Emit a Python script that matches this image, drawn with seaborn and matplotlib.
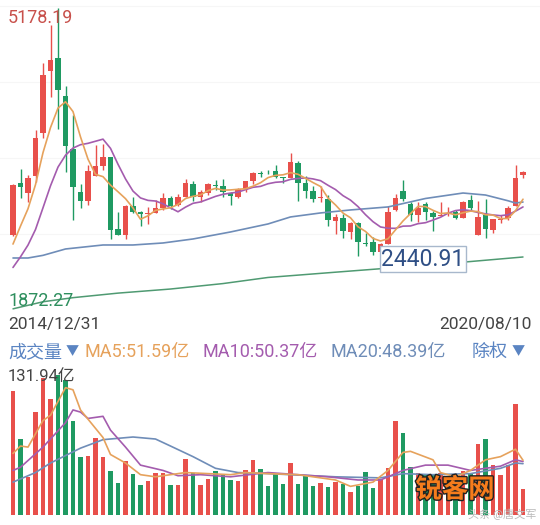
import numpy as np
import pandas as pd
import matplotlib
matplotlib.use("Agg")
import matplotlib.pyplot as plt
import matplotlib.patheffects as pe
import seaborn as sns

# monthly candles, 2014/12 .. 2020/08
MONTHS = [str(p) for p in pd.period_range("2014-12", "2020-08", freq="M")]

OPEN = [2680, 3258, 3148, 3332, 3810, 4483, 4633, 4214, 3628, 3157, 3057, 3337, 3441,
        3536, 2750, 2680, 3000, 2939, 2914, 2925, 2976, 3086, 3013, 3101, 3249,
        3105, 3150, 3235, 3219, 3145, 3104, 3192, 3272, 3365, 3395, 3391, 3310,
        3314, 3479, 3258, 3169, 3089, 3084, 2842, 2867, 2720, 2819, 2597, 2608,
        2497, 2584, 2958, 3170, 3025, 2902, 3024, 2926, 2891, 2921, 2933, 2874,
        3066, 2685, 2899, 2743, 2850, 2870, 3006, 3338]
HIGH = [3239, 3406, 3347, 3835, 4572, 4986, 5178.19, 4318, 4006, 3243, 3457, 3678, 3684,
        3538, 2934, 3018, 3097, 2952, 2987, 3072, 3140, 3113, 3133, 3301, 3272,
        3174, 3260, 3283, 3295, 3154, 3196, 3276, 3375, 3391, 3400, 3450, 3321,
        3587, 3495, 3334, 3220, 3219, 3128, 2916, 2915, 2827, 2832, 2703, 2667,
        2597, 2997, 3129, 3288, 3045, 3045, 3048, 2945, 3048, 2995, 2953, 3056,
        3127, 3059, 3074, 2861, 2905, 3000, 3458, 3392]
LOW = [2673, 3095, 3049, 3268, 3747, 4198, 3847, 3373, 2850, 2983, 3011, 3328, 3393,
       2638, 2683, 2638, 2922, 2781, 2807, 2925, 2962, 2969, 3004, 3097, 3056,
       3044, 3128, 3178, 3097, 3017, 3086, 3152, 3241, 3317, 3349, 3315, 3254,
       3314, 3062, 3091, 3041, 3041, 2782, 2691, 2653, 2644, 2449, 2560, 2462,
       2440.91, 2584, 2950, 3056, 2838, 2822, 2844, 2733, 2890, 2891, 2857, 2873,
       2955, 2685, 2646, 2704, 2816, 2848, 3005, 3314]
CLOSE = [3235, 3210, 3310, 3748, 4441, 4612, 4277, 3664, 3206, 3053, 3383, 3445, 3539,
         2738, 2688, 3004, 2938, 2917, 2930, 2979, 3085, 3005, 3100, 3250, 3104,
         3159, 3242, 3223, 3155, 3117, 3192, 3273, 3361, 3349, 3393, 3317, 3307,
         3481, 3259, 3169, 3082, 3095, 2847, 2876, 2725, 2821, 2603, 2588, 2494,
         2585, 2941, 3091, 3078, 2899, 2979, 2932, 2886, 2905, 2929, 2871, 3050,
         2977, 2880, 2750, 2860, 2852, 2985, 3310, 3379]

MA5 = [2584, 2782, 2972, 3237, 3589, 3864, 4078, 4148, 4040, 3762, 3517, 3350, 3325,
       3232, 3159, 3083, 2981, 2857, 2895, 2954, 2970, 2983, 3020, 3084, 3109,
       3124, 3171, 3196, 3177, 3179, 3186, 3192, 3220, 3258, 3314, 3339, 3345,
       3369, 3351, 3307, 3260, 3217, 3090, 3014, 2925, 2873, 2774, 2723, 2646,
       2618, 2642, 2740, 2838, 2919, 2998, 2996, 2955, 2920, 2926, 2905, 2928,
       2946, 2941, 2906, 2903, 2864, 2865, 2951, 3077]
MA10 = [2327, 2444, 2573, 2744, 2983, 3224, 3430, 3560, 3639, 3676, 3691, 3714, 3737,
        3636, 3461, 3300, 3166, 3091, 3064, 3057, 3027, 2982, 2939, 2990, 3032,
        3047, 3077, 3108, 3131, 3144, 3155, 3182, 3208, 3218, 3247, 3263, 3269,
        3295, 3305, 3311, 3300, 3281, 3230, 3183, 3116, 3067, 2996, 2907, 2830,
        2772, 2758, 2757, 2781, 2783, 2808, 2819, 2848, 2879, 2923, 2952, 2962,
        2951, 2931, 2916, 2904, 2896, 2906, 2946, 2992]
# slower averages at a few months
MID_AT = [0, 2, 4, 7, 12, 16, 20, 24, 29, 34, 37, 41, 45, 50, 55, 60, 63, 66, 67, 68]
MID_VAL = [2431, 2431, 2460, 2530, 2574, 2574, 2596, 2640, 2717, 2805, 2882, 2926,
           2959, 2992, 3085, 3145, 3123, 3060, 3035, 3046]
LONG_AT = [0, 4, 8, 14, 21, 28, 34, 43, 52, 60, 68]
LONG_VAL = [1872.27, 1950, 1995, 2045, 2090, 2150, 2217, 2275, 2332, 2385, 2442]

# volume (亿)
VOLUME = [117, 72, 36, 97, 129, 109, 131.94, 127, 89, 55, 56, 72.5, 55,
          41, 30, 51, 39, 28, 32, 40, 40, 28, 28, 53, 40,
          28, 34, 41, 38, 33, 32.5, 42, 52, 43, 27, 40, 29,
          48.7, 29, 36.8, 27.3, 29.8, 26, 30.8, 29, 21.4, 27.3, 40.8, 25.7,
          33.6, 44.6, 88.9, 77, 45, 40, 37.7, 37.7, 39.3, 37, 33, 41.8,
          39.3, 66.5, 71.4, 47.5, 37.3, 47.5, 105, 24.5]
VMA5_AT = [0, 1, 2, 4, 5, 7, 8, 9, 12, 13, 15, 17, 19, 23, 29, 31, 34, 38, 43, 45,
           48, 50, 52, 53, 56, 57, 59, 61, 63, 65, 67, 68]
VMA5_VAL = [58, 65, 64, 89, 94, 120, 118, 99, 73, 57, 49, 38, 36, 40, 38, 40, 39, 38,
            33, 27, 31, 42, 59, 60, 52, 40, 36, 42, 52, 55, 62, 51.59]
VMA10_AT = [0, 1, 4, 7, 8, 9, 10, 12, 13, 15, 17, 20, 22, 25, 29, 34, 38, 42, 46,
            49, 50, 52, 55, 58, 61, 63, 65, 67, 68]
VMA10_VAL = [42, 45, 64, 87, 99, 97, 91, 93, 80, 64, 47, 42, 37, 38, 36, 40, 38, 36,
             33, 33, 36, 42, 47, 47, 42, 44, 46, 52, 50.37]
VMA20_AT = [0, 3, 5, 9, 12, 16, 19, 21, 24, 27, 30, 34, 43, 49, 52, 56, 61, 65, 67, 68]
VMA20_VAL = [31, 40, 49, 63, 71, 73.5, 71.6, 65, 55, 44, 40, 39, 36, 35, 39, 38, 39,
             44, 49, 48.39]

RED = "#e8504b"
GREEN = "#1f9a62"
C_MA5 = "#e6a25c"
C_MA10 = "#a45cae"
C_MID = "#6f8db8"
C_LONG = "#4f9a72"
W, H = 540, 525


def px(x, y):
    return x / W, 1 - y / H


def style_ax(ax):
    for s in ax.spines.values():
        s.set_visible(False)
    ax.set_xticks([])
    ax.set_yticks([])
    ax.set_xlabel("")
    ax.set_ylabel("")
    ax.set_facecolor("none")


def main():
    sns.set_theme(style="white")
    plt.rcParams["font.family"] = ["Roboto", "Noto Sans CJK SC", "DejaVu Sans"]

    df = pd.DataFrame({"month": MONTHS, "open": OPEN, "high": HIGH, "low": LOW,
                       "close": CLOSE, "ma5": MA5, "ma10": MA10, "vol": VOLUME})
    df["x"] = np.arange(len(df))
    df["up"] = df["close"] >= df["open"]
    colors = np.where(df["up"], RED, GREEN)

    fig = plt.figure(figsize=(5.4, 5.25), dpi=100)
    fig.patch.set_facecolor("white")
    xlim = (-13 / 7.5, (W - 13) / 7.5)

    # price panel: y px = 8 + (5178.19 - p) * 0.091
    ax = fig.add_axes([0, 1 - 312 / H, 1, 312 / H])
    ax.set_xlim(*xlim)
    ax.set_ylim(5178.19 - 304 / 0.091, 5178.19 + 8 / 0.091)
    for gy in [6, 82, 158, 234]:
        ax.axhline(5178.19 - (gy - 8) / 0.091, color="#f6f6f6", lw=0.8, zorder=0)

    ax.vlines(df["x"], df["low"], df["high"], colors=colors, lw=1, zorder=2)
    body = np.maximum((df["close"] - df["open"]).abs(), 9)
    ax.bar(df["x"], body, bottom=np.minimum(df["open"], df["close"]),
           width=0.68, color=colors, linewidth=0, zorder=3)

    sns.lineplot(x=LONG_AT, y=LONG_VAL, ax=ax, color=C_LONG, lw=1.1, zorder=4)
    sns.lineplot(x=MID_AT, y=MID_VAL, ax=ax, color=C_MID, lw=1.2, zorder=4)
    sns.lineplot(data=df, x="x", y="ma10", ax=ax, color=C_MA10, lw=1.2, zorder=5)
    sns.lineplot(data=df, x="x", y="ma5", ax=ax, color=C_MA5, lw=1.2, zorder=6)
    style_ax(ax)

    # volume panel: 131.94 sits at y px 375, zero at 515
    vax = fig.add_axes([0, 1 - 515 / H, 1, 147 / H])
    vax.set_xlim(*xlim)
    vax.set_ylim(0, 131.94 * 147 / 140)
    vax.bar(df["x"], df["vol"], width=0.66, color=colors, linewidth=0, zorder=2)
    sns.lineplot(x=VMA20_AT, y=VMA20_VAL, ax=vax, color=C_MID, lw=1.2, zorder=4)
    sns.lineplot(x=VMA10_AT, y=VMA10_VAL, ax=vax, color=C_MA10, lw=1.2, zorder=5)
    sns.lineplot(x=VMA5_AT, y=VMA5_VAL, ax=vax, color=C_MA5, lw=1.2, zorder=6)
    style_ax(vax)

    # labels
    fig.text(*px(8, 18), "5178.19", color="#c8504b", fontsize=13, va="center")
    fig.text(*px(8, 301), "1872.27", color="#2e8f5e", fontsize=13, va="center")
    fig.text(*px(423, 259), "2440.91", color="#2f4f85", fontsize=16.5,
             ha="center", va="center",
             bbox=dict(boxstyle="square,pad=0.08", fc="white", ec="#a8b8cc", lw=1))
    fig.text(*px(8, 324), MONTHS[0].replace("-", "/") + "/31", color="#444444",
             fontsize=12.5, va="center")
    fig.text(*px(532, 324), "2020/08/10", color="#444444", fontsize=12.5,
             ha="right", va="center")

    ly = 352
    fig.text(*px(8, ly), "成交量", color="#5a84c2", fontsize=13, va="center")
    fig.text(*px(66, ly), "▼", color="#5a84c2", fontsize=9.5, va="center")
    fig.text(*px(84, ly), "MA5:51.59亿", color=C_MA5, fontsize=13, va="center")
    fig.text(*px(203, ly), "MA10:50.37亿", color=C_MA10, fontsize=13, va="center")
    fig.text(*px(330, ly), "MA20:48.39亿", color=C_MID, fontsize=13, va="center")
    fig.text(*px(472, ly), "除权", color="#5a84c2", fontsize=13, va="center")
    fig.text(*px(512, ly), "▼", color="#5a84c2", fontsize=9.5, va="center")
    fig.text(*px(8, 377), "131.94亿", color="#444444", fontsize=12, va="center")

    # watermark
    fig.text(*px(455, 490), "锐客网", color="#f57c1c", fontsize=19, ha="center",
             va="center", fontweight="bold",
             path_effects=[pe.withStroke(linewidth=2, foreground="#222222")])
    fig.text(*px(536, 514), "头条 @唐文军", color="#bbbbbb", fontsize=8,
             ha="right", va="center")

    fig.savefig("out.png", dpi=100, facecolor="white")


if __name__ == "__main__":
    main()
